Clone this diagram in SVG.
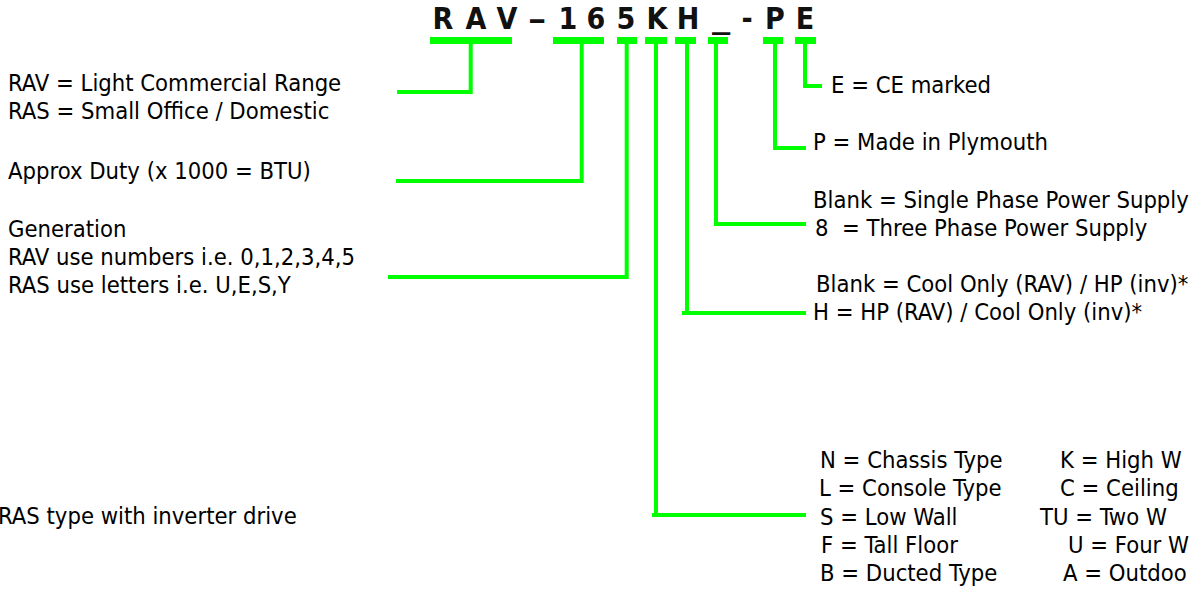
<svg xmlns="http://www.w3.org/2000/svg" width="1194" height="590" viewBox="0 0 1194 590">
<style>
.t{font-family:"DejaVu Sans Condensed","DejaVu Sans",sans-serif;font-stretch:condensed;font-size:23.6px;fill:#000}
.h{font-family:"DejaVu Sans Condensed","DejaVu Sans",sans-serif;font-stretch:condensed;font-weight:bold;font-size:30px;fill:#111;text-anchor:middle}
.bar{fill:#00ff00}
.c{fill:none;stroke:#00ff00;stroke-width:4;stroke-linejoin:miter;stroke-linecap:butt}
</style>
<rect width="1194" height="590" fill="#fff"/>
<g id="title">
<text class="h" x="443" y="29">R</text>
<text class="h" x="476" y="29">A</text>
<text class="h" x="507" y="29">V</text>
<text class="h" transform="translate(537,29) scale(1.35,1)">–</text>
<text class="h" x="568" y="29">1</text>
<text class="h" x="596" y="29">6</text>
<text class="h" x="626" y="29">5</text>
<text class="h" x="657" y="29">K</text>
<text class="h" x="688" y="29">H</text>
<text class="h" transform="translate(721,28) scale(1.35,1)">_</text>
<text class="h" x="747" y="29">-</text>
<text class="h" x="775" y="29">P</text>
<text class="h" x="805" y="29">E</text>
</g>
<g id="bars">
<rect class="bar" x="430" y="37" width="82" height="7"/>
<rect class="bar" x="553" y="37" width="51" height="7"/>
<rect class="bar" x="617" y="37" width="20" height="7"/>
<rect class="bar" x="645" y="37" width="22" height="7"/>
<rect class="bar" x="675" y="37" width="21" height="7"/>
<rect class="bar" x="708" y="37" width="20" height="7"/>
<rect class="bar" x="763" y="37" width="20" height="7"/>
<rect class="bar" x="795" y="37" width="21" height="7"/>
</g>
<g id="connectors">
<path class="c" d="M397,92 H470.7 V42"/>
<path class="c" d="M396,181 H581.7 V42"/>
<path class="c" d="M388,277 H626.7 V42"/>
<path class="c" d="M656,42 V515"/>
<path class="c" d="M652,515 H806"/>
<path class="c" d="M687,42 V313"/>
<path class="c" d="M682,313 H806"/>
<path class="c" d="M716,42 V224"/>
<path class="c" d="M714,224 H806"/>
<path class="c" d="M775,42 V148 H806"/>
<path class="c" d="M805,42 V86 H822"/>
</g>
<g id="range">
<text class="t" x="8" y="91">RAV = Light Commercial Range</text>
<text class="t" x="8" y="119">RAS = Small Office / Domestic</text>
</g>
<g id="duty">
<text class="t" x="8" y="179">Approx Duty (x 1000 = BTU)</text>
</g>
<g id="generation">
<text class="t" x="8" y="237">Generation</text>
<text class="t" x="8" y="265">RAV use numbers i.e. 0,1,2,3,4,5</text>
<text class="t" x="8" y="293">RAS use letters i.e. U,E,S,Y</text>
</g>
<g id="inverter">
<text class="t" x="-2" y="524">RAS type with inverter drive</text>
</g>
<g id="ce">
<text class="t" x="831" y="93">E = CE marked</text>
</g>
<g id="plymouth">
<text class="t" x="813" y="150">P = Made in Plymouth</text>
</g>
<g id="phase">
<text class="t" x="813" y="208">Blank = Single Phase Power Supply</text>
<text class="t" x="815" y="236">8&#160; = Three Phase Power Supply</text>
</g>
<g id="heatpump">
<text class="t" x="816" y="292">Blank = Cool Only (RAV) / HP (inv)*</text>
<text class="t" x="813" y="320">H = HP (RAV) / Cool Only (inv)*</text>
</g>
<g id="type">
<text class="t" x="820" y="468">N = Chassis Type</text>
<text class="t" x="819" y="496">L = Console Type</text>
<text class="t" x="820" y="525">S = Low Wall</text>
<text class="t" x="821" y="553">F = Tall Floor</text>
<text class="t" x="820" y="581">B = Ducted Type</text>
<text class="t" x="1060" y="468">K = High W</text>
<text class="t" x="1060" y="496">C = Ceiling</text>
<text class="t" x="1040" y="525">TU = Two W</text>
<text class="t" x="1068" y="553">U = Four W</text>
<text class="t" x="1063" y="581">A = Outdoo</text>
</g>
</svg>
